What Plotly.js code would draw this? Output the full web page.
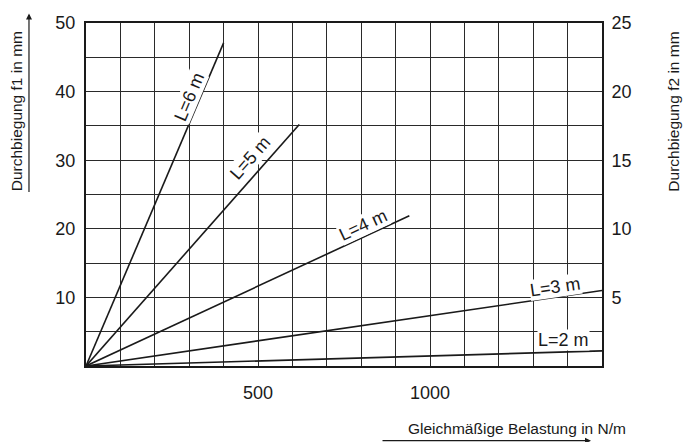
<!DOCTYPE html>
<html>
<head>
<meta charset="utf-8">
<script src="https://cdn.plot.ly/plotly-3.0.1.min.js"></script>
<style>html,body{margin:0;padding:0;background:#fff;}#chart{width:686px;height:442px;}</style>
</head>
<body>
<div id="chart"></div>
<script>
// Data
const spanLabels = ['L=6 m', 'L=5 m', 'L=4 m', 'L=3 m', 'L=2 m'];
const endLoad = [400, 620, 940, 1500, 1500];        // N/m at line end
const endDeflection = [47.1, 35.2, 21.9, 11.0, 2.2]; // f1 in mm at line end
const xTickVals = [500, 1000];
const xTickText = ['500', '1000'];
const yLeftTickVals = [10, 20, 30, 40, 50];
const yLeftTickText = ['10', '20', '30', '40', '50'];
const yRightTickVals = [5, 10, 15, 20, 25];
const yRightTickText = ['5', '10', '15', '20', '25'];

const FONT = 'Liberation Sans, Arial, Helvetica, sans-serif';
const INK = '#1a1a1a';

const traces = spanLabels.map((name, i) => ({
  type: 'scatter', mode: 'lines', name: name,
  x: [0, endLoad[i]], y: [0, endDeflection[i]],
  line: {color: INK, width: 1.6},
  hoverinfo: 'skip', cliponaxis: true
}));
// invisible trace to activate right axis
traces.push({type: 'scatter', mode: 'markers', x: [0], y: [0], yaxis: 'y2',
  marker: {opacity: 0}, hoverinfo: 'skip', showlegend: false});

// label placement (data coordinates) and rotation
const labelPlace = [
  {x: 302, y: 39.3, a: -67},
  {x: 477, y: 30.3, a: -48.7},
  {x: 806, y: 20.5, a: -25},
  {x: 1364, y: 11.45, a: -8.3},
  {x: 1387, y: 3.75, a: 0}
];
const annotations = spanLabels.map((t, i) => ({
  x: labelPlace[i].x, y: labelPlace[i].y, xref: 'x', yref: 'y',
  text: t, textangle: labelPlace[i].a, showarrow: false,
  font: {family: FONT, size: 18, color: INK},
  bgcolor: '#ffffff', borderpad: 0, xanchor: 'center', yanchor: 'middle'
}));

annotations.push(
  {xref: 'paper', yref: 'paper', x: -0.1357, y: 0.7426, text: 'Durchbiegung f1 in mm',
   textangle: -90, showarrow: false, font: {family: FONT, size: 15.5, color: INK},
   xanchor: 'center', yanchor: 'middle'},
  {xref: 'paper', yref: 'paper', x: 1.1383, y: 0.7426, text: 'Durchbiegung f2 in mm',
   textangle: -90, showarrow: false, font: {family: FONT, size: 15.5, color: INK},
   xanchor: 'center', yanchor: 'middle'},
  {xref: 'paper', yref: 'paper', x: 0.8348, y: -0.1816, text: 'Gleichmäßige Belastung in N/m',
   showarrow: false, font: {family: FONT, size: 15.5, color: INK},
   xanchor: 'center', yanchor: 'middle'},
  // left arrow
  {xref: 'paper', yref: 'paper', x: -0.1105, y: 1.028, ax: 0, ay: 180, text: '',
   showarrow: true, arrowhead: 2, arrowsize: 1, arrowwidth: 1.2, arrowcolor: INK},
  // bottom arrow
  {xref: 'paper', yref: 'paper', x: 0.9787, y: -0.2177, ax: -210, ay: 0, text: '',
   showarrow: true, arrowhead: 2, arrowsize: 1, arrowwidth: 1.2, arrowcolor: INK}
);

const gridStyle = {showgrid: true, gridcolor: '#2a2a2a', gridwidth: 1};

const layout = {
  width: 686, height: 442,
  margin: {l: 86, r: 84, t: 23, b: 76, pad: 0},
  paper_bgcolor: '#ffffff', plot_bgcolor: '#ffffff',
  showlegend: false,
  font: {family: FONT, size: 18, color: INK},
  xaxis: Object.assign({
    range: [0, 1500], tickmode: 'array', tickvals: xTickVals, ticktext: xTickText,
    ticks: 'outside', ticklen: 9, tickcolor: 'rgba(0,0,0,0)',
    showline: true, mirror: true, linecolor: INK, linewidth: 2,
    zeroline: false, fixedrange: true,
    tickfont: {family: FONT, size: 18, color: INK},
    minor: {dtick: 100, tick0: 0, showgrid: true, gridcolor: '#2a2a2a', gridwidth: 1, ticks: ''}
  }, gridStyle),
  yaxis: Object.assign({
    range: [0, 50], tickmode: 'array', tickvals: yLeftTickVals, ticktext: yLeftTickText,
    ticks: 'outside', ticklen: 5, tickcolor: 'rgba(0,0,0,0)',
    showline: true, mirror: true, linecolor: INK, linewidth: 2,
    zeroline: false, fixedrange: true,
    tickfont: {family: FONT, size: 18, color: INK},
    minor: {dtick: 5, tick0: 0, showgrid: true, gridcolor: '#2a2a2a', gridwidth: 1, ticks: ''}
  }, gridStyle),
  yaxis2: {
    overlaying: 'y', side: 'right', range: [0, 25],
    tickmode: 'array', tickvals: yRightTickVals, ticktext: yRightTickText,
    ticks: 'outside', ticklen: 5, tickcolor: 'rgba(0,0,0,0)',
    showgrid: false, zeroline: false, showline: false, fixedrange: true,
    tickfont: {family: FONT, size: 18, color: INK}
  },
  annotations: annotations
};

Plotly.newPlot('chart', traces, layout, {displayModeBar: false, staticPlot: true});
</script>
</body>
</html>
